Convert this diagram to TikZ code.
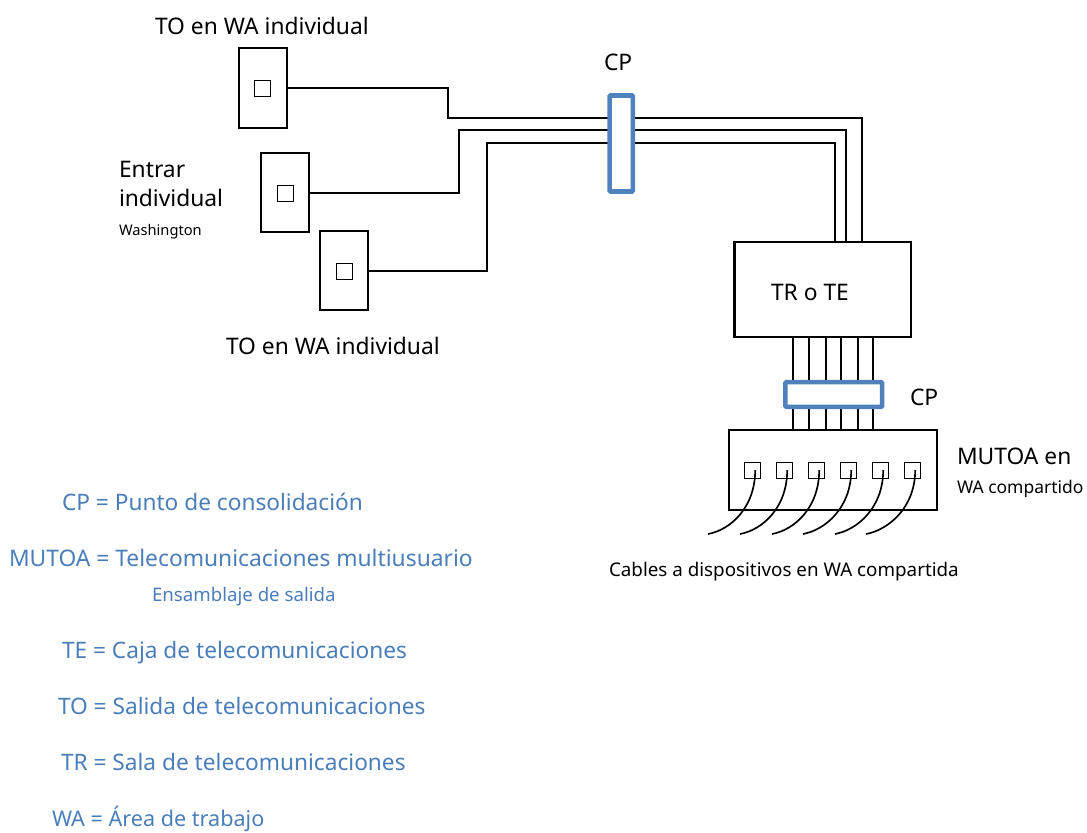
\documentclass[tikz,border=0pt]{standalone}
\usepackage{fontspec}
\setmainfont{Noto Sans}
\definecolor{cpblue}{HTML}{4F81BD}
\definecolor{txtblue}{HTML}{4A7EBB}
\tikzset{
  x=0.75pt,y=-0.75pt,
  wire/.style={draw=black,line width=1.4pt,line join=miter},
  cable/.style={draw=black,line width=1.25pt},
  outlet/.style={draw=black,fill=white,line width=1.4pt,minimum width=36pt,minimum height=59.5pt,inner sep=0pt,outer sep=0pt},
  jack/.style={draw=black,fill=white,line width=0.75pt,minimum width=12pt,minimum height=12pt,inner sep=0pt,outer sep=0pt},
  cpbox/.style={draw=cpblue,fill=white,line width=3.4pt,rounded corners=0.8pt,inner sep=0pt,outer sep=0pt},
  room/.style={draw=black,fill=white,line width=1.9pt,inner sep=0pt,outer sep=0pt},
  mbox/.style={draw=black,fill=white,line width=1.4pt,inner sep=0pt,outer sep=0pt},
  lab/.style={anchor=base west,inner sep=0pt,outer sep=0pt,text=black,font=\fontsize{17.1}{19}\selectfont},
  smalllab/.style={lab,font=\fontsize{11}{13}\selectfont},
  midlab/.style={lab,font=\fontsize{13.1}{15}\selectfont},
  cablelab/.style={lab,font=\fontsize{14.1}{16}\selectfont},
  bluelab/.style={lab,text=txtblue,font=\fontsize{17}{19}\selectfont},
  bluesmall/.style={lab,text=txtblue,font=\fontsize{14}{16}\selectfont},
}
\begin{document}
\begin{tikzpicture}
\useasboundingbox (0,0) rectangle (1087,832);
% coordinates for wire routes
\coordinate (a1) at (448,88); \coordinate (a2) at (448,118);
\coordinate (b1) at (459,193); \coordinate (b2) at (459,130);
\coordinate (c1) at (487,271); \coordinate (c2) at (487,143);
\coordinate (ta) at (862,118); \coordinate (tb) at (846,130); \coordinate (tc) at (835,143);
\coordinate (tan) at (862,242); \coordinate (tbn) at (846,242); \coordinate (tcn) at (835,242);
% outlets
\node[outlet] (o1) at (262.8,88) {};
\node[outlet] (o2) at (285,192.5) {};
\node[outlet] (o3) at (344,270.5) {};
\node[jack] (j1) at (262.8,88) {};
\node[jack] (j2) at (285.3,193) {};
\node[jack] (j3) at (344,271) {};
% room
\node[room,minimum width=132.5pt,minimum height=71pt] (tr) at (822.75,289.5) {};
\node[mbox,minimum width=156pt,minimum height=60pt] (mu) at (833,470) {};
% wires
\draw[wire] (o1.east |- a1) -- (a1) -- (a2) -- (ta) -- (tan);
\draw[wire] (o2.east |- b1) -- (b1) -- (b2) -- (tb) -- (tbn);
\draw[wire] (o3.east |- c1) -- (c1) -- (c2) -- (tc) -- (tcn);
\foreach \n/\x in {1/793.3,2/808.7,3/826,4/841,5/858,6/873.3}{
  \coordinate (u\n) at (\x,337); \coordinate (v\n) at (\x,430);
  \draw[wire] (u\n) -- (v\n);
}
% consolidation points
\node[cpbox,minimum width=17.5pt,minimum height=72pt] (cp1) at (621.25,143.5) {};
\node[cpbox,minimum width=72.5pt,minimum height=18.5pt] (cp2) at (833.75,394.5) {};
% MUTOA jacks and cables
\foreach \n/\x/\e in {1/752.7/708,2/784.7/740,3/816.7/772,4/848.7/803,5/880.7/835,6/912.7/866}{
  \node[jack] (m\n) at (\x,470) {};
  \coordinate (e\n) at (\e,534);
  \draw[cable] (m\n.center) ++(2.5,0) .. controls +(0,38) and +(22,-4) .. (e\n);
}
% labels
\node[lab] (l1) at (155,34) {TO en WA individual};
\node[lab] (l2) at (604,70) {CP};
\node[lab] (l3) at (119,177) {Entrar};
\node[lab] (l4) at (119,206) {individual};
\node[smalllab] (l5) at (119,235) {Washington};
\node[lab] (l6) at (226,354) {TO en WA individual};
\node[lab] (l7) at (771,300) {TR o TE};
\node[lab] (l8) at (910,405) {CP};
\node[lab] (l9) at (957,464) {MUTOA en};
\node[midlab] (l10) at (957,493) {WA compartido};
\node[cablelab] (l11) at (609,576) {Cables a dispositivos en WA compartida};
\node[bluelab] (k1) at (62,510) {CP = Punto de consolidación};
\node[bluelab,font=\fontsize{17.1}{19}\selectfont] (k2) at (9,566) {MUTOA = Telecomunicaciones multiusuario};
\node[bluesmall] (k3) at (152,601) {Ensamblaje de salida};
\node[bluelab] (k4) at (62,658) {TE = Caja de telecomunicaciones};
\node[bluelab] (k5) at (58,714) {TO = Salida de telecomunicaciones};
\node[bluelab] (k6) at (61,770) {TR = Sala de telecomunicaciones};
\node[bluelab,font=\fontsize{16.2}{18}\selectfont] (k7) at (52,826.5) {WA = Área de trabajo};
\end{tikzpicture}
\end{document}
